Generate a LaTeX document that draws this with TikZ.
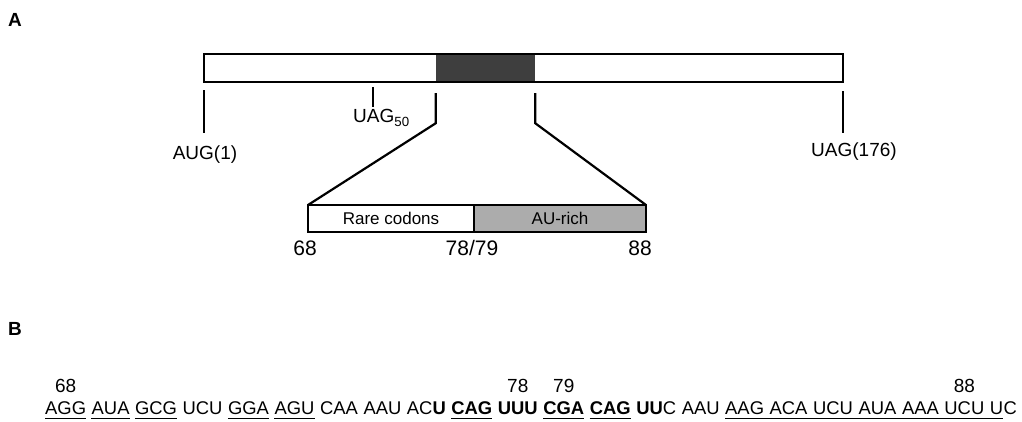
\documentclass[tikz,border=0pt]{standalone}
\usepackage{fontspec}
\setmainfont{Liberation Sans}
\usetikzlibrary{positioning}
\definecolor{inkCore}{RGB}{62,62,62}
\definecolor{inkRich}{RGB}{172,172,172}

\begin{document}
\begin{tikzpicture}[x=1pt, y=-1pt,
    panel/.style={inner sep=0pt, font=\fontsize{19}{22}\selectfont\bfseries},
    lbl/.style={inner sep=0pt, font=\fontsize{19}{22}\selectfont},
    bignum/.style={inner sep=0pt, font=\fontsize{21}{24}\selectfont},
    tick/.style={line width=1.6pt},
    zoomline/.style={line width=2.2pt},
    seg/.style={draw, line width=1.6pt, outer sep=0pt, inner sep=0pt, minimum height=27pt, font=\fontsize{17}{19}\selectfont},
    codon/.style={inner sep=0pt, text height=13.5pt, text depth=0pt, font=\fontsize{18.4}{22}\selectfont},
    uline/.style={line width=1.5pt}]

\useasboundingbox (0,0) rectangle (1022,421);

% panel A: the whole message
\node[panel] (pa) at (15,20) {A};
\node[fill=inkCore, inner sep=0pt, minimum width=99pt, minimum height=28pt] (core) at (485.5,68) {};
\node[draw, line width=1.6pt, inner sep=0pt, minimum width=639pt, minimum height=28pt] (mrna) at (523.5,68) {};

\coordinate (t1) at (204,90);
\coordinate (t50) at (373,87);
\coordinate (t176) at (843,91);
\draw[tick] (t1) -- ++(0,43);
\draw[tick] (t50) -- ++(0,20);
\draw[tick] (t176) -- ++(0,42);
\node[lbl] (aug) at (205,155) {AUG(1)};
\node[lbl, anchor=west] (uag50) at (353,118) {UAG\textsubscript{50}};
\node[lbl] (uag176) at (854,152) {UAG(176)};

% blow-up of the shaded stretch
\node[seg, minimum width=166pt, anchor=north west] (rare) at (308,205) {Rare codons};
\node[seg, fill=inkRich, minimum width=172pt, right=0pt of rare] (rich) {AU-rich};
\draw[zoomline] ([yshift=-11pt]core.south west) -- ++(0,30) -- (rare.north west);
\draw[zoomline] ([yshift=-11pt]core.south east) -- ++(0,30) -- (rich.north east);
\node[bignum] (n68) at (305,248) {68};
\node[bignum] (n78) at (472,248) {78/79};
\node[bignum] (n88) at (640,248) {88};

% panel B: sequence
\node[panel] (pb) at (15,329) {B};
\node[codon, anchor=west] (c68) at (45,408) {AGG};
\node[codon, right=5.2pt of c68] (c69) {AUA};
\node[codon, right=5.2pt of c69] (c70) {GCG};
\node[codon, right=5.2pt of c70] (c71) {UCU};
\node[codon, right=5.2pt of c71] (c72) {GGA};
\node[codon, right=5.2pt of c72] (c73) {AGU};
\node[codon, right=5.2pt of c73] (c74) {CAA};
\node[codon, right=5.2pt of c74] (c75) {AAU};
\node[codon, right=5.2pt of c75] (c76) {AC\textbf{U}};
\node[codon, right=5.2pt of c76] (c77) {\textbf{CAG}};
\node[codon, right=5.2pt of c77] (c78) {\textbf{UUU}};
\node[codon, right=5.2pt of c78] (c79) {\textbf{CGA}};
\node[codon, right=5.2pt of c79] (c80) {\textbf{CAG}};
\node[codon, right=5.2pt of c80] (c81) {\textbf{UU}C};
\node[codon, right=5.2pt of c81] (c82) {AAU};
\node[codon, right=5.2pt of c82] (c83) {AAG};
\node[codon, right=5.2pt of c83] (c84) {ACA};
\node[codon, right=5.2pt of c84] (c85) {UCU};
\node[codon, right=5.2pt of c85] (c86) {AUA};
\node[codon, right=5.2pt of c86] (c87) {AAA};
\node[codon, right=5.2pt of c87] (c88) {UCU};
\node[codon, right=5.2pt of c88] (tu) {U};
\node[codon, right=0pt of tu] (tc) {C};

\node[lbl, above=8pt of c68] (s68) {68};
\node[lbl, above=8pt of c78] (s78) {78};
\node[lbl, above=8pt of c79] (s79) {79};
\node[lbl, above=8pt of c88] (s88) {88};

\foreach \c in {c68,c69,c70,c72,c73,c77,c79,c80}
  \draw[uline] ([yshift=-3.5pt]\c.south west) -- ([yshift=-3.5pt]\c.south east);
\draw[line width=0.8pt, double, double distance=0.6pt] ([yshift=-4pt]c83.south west) -- ([yshift=-4pt]tu.south east);
\end{tikzpicture}
\end{document}
